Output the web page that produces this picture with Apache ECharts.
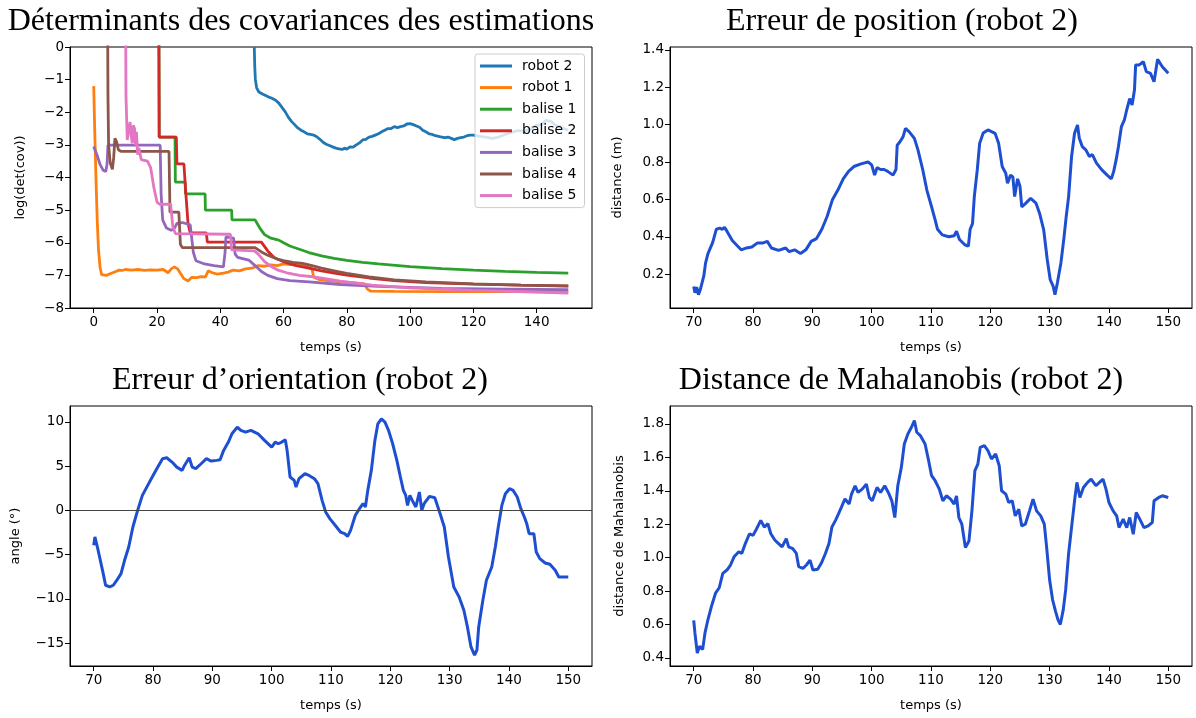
<!DOCTYPE html>
<html>
<head>
<meta charset="utf-8">
<script src="https://cdn.jsdelivr.net/npm/echarts@6/dist/echarts.min.js"></script>
<style>
  html, body { margin: 0; padding: 0; background: #fff; }
  #chart { width: 1196px; height: 718px; }
</style>
</head>
<body>
<div id="chart"></div>
<script>
// ---- Covariance determinants (log), time in s ----
const robot2 = [[50.75,0],[50.9,-0.6],[51.1,-1.0],[51.5,-1.25],[52.2,-1.38],[53.5,-1.45],[55,-1.52],[56.3,-1.57],[57.5,-1.63],[58.5,-1.72],[59.5,-1.85],[60.5,-1.98],[61.5,-2.15],[62.5,-2.28],[63.5,-2.38],[64.5,-2.48],[65.5,-2.55],[66.5,-2.6],[67.5,-2.66],[68.5,-2.68],[69.5,-2.7],[70.5,-2.75],[71.5,-2.83],[72.5,-2.92],[73.5,-2.98],[74.5,-3.02],[75.5,-3.06],[76.5,-3.1],[77.5,-3.12],[78.5,-3.14],[79.3,-3.1],[80,-3.13],[81,-3.06],[82,-3.07],[83,-3.0],[84,-2.94],[85,-2.85],[86,-2.83],[87,-2.76],[88,-2.74],[89,-2.7],[90,-2.66],[91,-2.6],[92,-2.55],[93,-2.5],[94,-2.5],[95,-2.44],[96,-2.47],[97,-2.44],[98,-2.42],[99,-2.36],[100,-2.35],[101,-2.38],[102,-2.42],[103,-2.46],[104,-2.55],[105,-2.6],[106,-2.66],[107,-2.68],[108,-2.72],[109,-2.74],[110,-2.76],[111,-2.78],[112,-2.76],[113,-2.8],[114,-2.84],[115,-2.8],[116,-2.78],[117,-2.76],[118,-2.72],[119,-2.7],[120,-2.7],[122,-2.74],[124,-2.76],[126,-2.8],[128,-2.76],[130,-2.68],[132,-2.62],[134,-2.56],[136,-2.58],[138,-2.52],[140,-2.4],[141.5,-2.38],[143,-2.25],[144.5,-2.28],[146,-2.4],[148,-2.48],[150,-2.55]];
const robot1 = [[0,-1.2],[0.3,-2.5],[0.7,-4.0],[1.1,-5.3],[1.5,-6.2],[2.0,-6.75],[2.5,-6.98],[3,-7.02],[4,-7.0],[5,-6.96],[6,-6.92],[7,-6.88],[8,-6.84],[9,-6.85],[10,-6.82],[12,-6.84],[14,-6.82],[16,-6.85],[18,-6.83],[20,-6.84],[22,-6.82],[23.5,-6.92],[24.5,-6.8],[25.5,-6.74],[26.5,-6.8],[27.5,-6.95],[28.5,-7.1],[29.8,-7.17],[31,-7.06],[32.5,-7.07],[34,-7.04],[35.3,-7.05],[36.2,-6.86],[37.5,-6.92],[39,-6.96],[41,-6.93],[42.5,-6.9],[44,-6.84],[46,-6.86],[48,-6.8],[50,-6.78],[52,-6.7],[54,-6.72],[56,-6.68],[58,-6.7],[60,-6.65],[62,-6.67],[64,-6.68],[66,-6.7],[68,-6.75],[69,-6.8],[69.5,-7.05],[71,-7.12],[74,-7.16],[78,-7.2],[82,-7.22],[85.5,-7.26],[86.5,-7.42],[87.5,-7.48],[95,-7.49],[110,-7.5],[130,-7.5],[150,-7.5]];
const balise1 = [[20.6,0.5],[20.7,-2.76],[25.7,-2.76],[25.8,-4.14],[28.9,-4.14],[29.0,-4.5],[35.2,-4.5],[35.3,-5.0],[43.6,-5.0],[43.7,-5.3],[51,-5.3],[52.5,-5.55],[54,-5.75],[56,-5.86],[58.5,-5.92],[60,-6.0],[62,-6.1],[65,-6.2],[68,-6.3],[72,-6.4],[76,-6.48],[80,-6.54],[85,-6.6],[90,-6.65],[100,-6.73],[110,-6.79],[120,-6.84],[130,-6.88],[140,-6.91],[150,-6.93]];
const balise2 = [[20.6,0.5],[20.7,-2.76],[26.1,-2.76],[26.3,-3.58],[28.5,-3.58],[29.2,-4.6],[29.8,-5.4],[30.5,-5.7],[35.6,-5.7],[35.9,-5.98],[53,-5.98],[55,-6.25],[57,-6.45],[60,-6.58],[64,-6.7],[68,-6.78],[72,-6.86],[76,-6.93],[80,-6.99],[87,-7.08],[95,-7.16],[105,-7.22],[120,-7.27],[135,-7.3],[150,-7.32]];
const balise3 = [[0,-3.05],[1,-3.3],[2,-3.6],[3,-3.78],[3.8,-3.82],[4.2,-3.6],[4.5,-3.01],[21,-3.01],[21.3,-4.5],[21.8,-5.3],[23,-5.55],[24.5,-5.62],[25.5,-5.55],[26.3,-5.41],[28,-5.38],[30.5,-5.45],[31.5,-6.3],[32.3,-6.55],[35,-6.65],[38,-6.7],[41,-6.74],[41.5,-6.3],[41.8,-5.82],[44.2,-5.86],[44.7,-6.35],[45.5,-6.45],[49,-6.53],[51,-6.7],[53,-6.88],[55,-7.0],[58,-7.1],[62,-7.16],[68,-7.2],[78,-7.28],[90,-7.34],[110,-7.4],[130,-7.42],[150,-7.44]];
const balise4 = [[4.4,0.5],[4.5,-1.5],[4.7,-3.0],[5.2,-3.55],[5.9,-3.75],[6.3,-3.4],[6.7,-2.8],[7.2,-2.9],[7.8,-3.15],[8.6,-3.2],[23.8,-3.2],[24.1,-5.06],[26.9,-5.06],[27.4,-6.05],[28,-6.15],[51,-6.15],[53,-6.28],[55,-6.38],[58,-6.5],[60,-6.55],[63,-6.6],[66,-6.63],[69,-6.7],[72,-6.78],[76,-6.86],[80,-6.94],[87,-7.05],[95,-7.14],[105,-7.2],[120,-7.26],[135,-7.3],[150,-7.33]];
const balise5 = [[10.1,0.5],[10.2,-1.5],[10.6,-2.85],[11.0,-2.55],[11.5,-2.3],[11.8,-2.7],[12.2,-2.95],[12.5,-2.4],[12.9,-2.5],[13.2,-3.0],[13.5,-2.6],[13.9,-3.3],[14.3,-3.1],[15,-3.45],[17,-3.5],[18,-3.7],[19,-4.3],[20,-4.75],[20.8,-4.82],[24.3,-4.82],[25,-5.5],[25.8,-5.72],[43.2,-5.74],[43.6,-6.22],[50.8,-6.25],[52,-6.35],[54,-6.58],[56,-6.72],[58,-6.83],[61,-6.92],[65,-7.0],[70,-7.05],[78,-7.18],[88,-7.3],[100,-7.38],[120,-7.46],[150,-7.54]];

// ---- Robot 2 position error (m) ----
const positionError = [[70,0.134],[70.2,0.10],[70.5,0.13],[70.8,0.09],[71.1,0.116],[71.7,0.19],[72,0.26],[72.4,0.31],[73.2,0.37],[73.8,0.44],[74.4,0.446],[74.8,0.44],[75.2,0.45],[75.6,0.43],[76.5,0.38],[77.1,0.36],[78,0.33],[78.9,0.34],[79.8,0.345],[80.7,0.366],[81.6,0.366],[82.4,0.375],[83.1,0.34],[84.3,0.327],[85.5,0.34],[86.1,0.32],[87,0.33],[88,0.31],[88.9,0.33],[89.8,0.375],[90.7,0.39],[91.6,0.44],[92.5,0.51],[93.4,0.60],[94.3,0.65],[95.2,0.71],[96.1,0.75],[97,0.776],[98.2,0.79],[99.4,0.80],[100,0.785],[100.5,0.73],[100.9,0.77],[101.5,0.76],[102.1,0.76],[102.7,0.75],[103.6,0.73],[104.1,0.76],[104.3,0.89],[104.8,0.91],[105.3,0.936],[105.7,0.98],[106.3,0.963],[107.2,0.927],[107.8,0.865],[108.6,0.76],[109.3,0.65],[110.1,0.56],[110.7,0.49],[111.1,0.44],[111.9,0.41],[113,0.40],[113.9,0.405],[114.3,0.43],[114.8,0.385],[115.7,0.357],[116.3,0.35],[116.6,0.44],[117,0.47],[117.3,0.615],[117.8,0.758],[118.2,0.90],[118.8,0.955],[119.6,0.972],[120.2,0.963],[120.8,0.954],[121.4,0.90],[122,0.776],[122.6,0.74],[122.9,0.687],[123.4,0.73],[123.8,0.72],[124.1,0.615],[124.6,0.71],[125,0.67],[125.3,0.56],[126,0.58],[126.8,0.606],[127.7,0.58],[128.3,0.526],[129,0.437],[129.6,0.277],[130.1,0.17],[130.6,0.134],[130.9,0.09],[131.3,0.152],[131.9,0.26],[132.4,0.39],[132.8,0.51],[133.2,0.615],[133.7,0.83],[134.2,0.954],[134.7,0.998],[135,0.927],[135.5,0.883],[136.1,0.865],[136.7,0.83],[137.2,0.84],[137.9,0.794],[138.8,0.758],[139.7,0.73],[140.4,0.71],[140.8,0.75],[141.2,0.81],[141.6,0.883],[142.1,0.99],[142.6,1.026],[143,1.08],[143.5,1.14],[143.9,1.106],[144.3,1.186],[144.5,1.32],[145.1,1.32],[145.8,1.337],[146.3,1.284],[147,1.275],[147.6,1.23],[148.2,1.35],[149,1.31],[150,1.275]];

// ---- Robot 2 orientation error (deg) ----
const orientationError = [[70,-3.95],[70.2,-3.0],[70.6,-4.1],[71,-5.3],[71.6,-7.15],[72,-8.47],[72.7,-8.66],[73.3,-8.47],[73.9,-7.9],[74.6,-7.15],[75.2,-5.65],[75.9,-4.14],[76.6,-1.88],[77.4,0],[78.2,1.69],[79.1,2.82],[80,3.95],[80.8,4.89],[81.6,5.84],[82.3,5.95],[83.2,5.46],[84,4.89],[84.9,4.52],[85.3,5.08],[86.1,5.95],[86.6,4.89],[87.2,4.71],[88.1,5.27],[89,5.84],[89.8,5.57],[90.7,5.65],[91.3,5.72],[91.9,6.78],[92.7,7.72],[93.3,8.66],[94.2,9.41],[94.8,9.04],[95.6,8.85],[96.5,9.04],[97.7,8.66],[98.8,7.91],[100,7.15],[100.6,7.72],[101.1,7.53],[101.7,7.72],[102.3,7.98],[102.6,6.78],[103.1,3.77],[103.8,3.39],[104.1,2.64],[104.6,3.58],[105.6,4.14],[106.3,3.95],[107.2,3.58],[107.8,3.01],[108.5,1.13],[109.1,-0.19],[109.8,-0.94],[110.7,-1.69],[111.6,-2.45],[112.3,-2.64],[112.8,-2.94],[113.3,-2.26],[114.1,-0.56],[114.8,0.19],[115.4,0.75],[115.8,0.38],[116.2,2.26],[116.8,4.52],[117.4,7.91],[117.9,9.79],[118.5,10.35],[119.1,9.98],[119.7,9.04],[120.4,7.53],[121.1,5.65],[121.7,3.77],[122.2,2.26],[122.6,1.69],[122.9,0.56],[123.3,1.69],[123.7,1.13],[124.3,0.38],[124.9,2.07],[125.3,0],[125.7,0.75],[126.6,1.58],[127.5,1.43],[128.4,-0.38],[129.1,-1.88],[129.8,-5.27],[130.7,-8.66],[131.6,-9.79],[132.4,-11.3],[133,-13.18],[133.6,-15.44],[134.2,-16.38],[134.6,-15.81],[134.9,-13.18],[135.6,-10.17],[136.2,-7.91],[137.1,-6.4],[137.7,-4.14],[138.2,-1.88],[138.8,0.56],[139.4,1.88],[140.1,2.45],[140.7,2.26],[141.4,1.51],[142,0.19],[142.6,-0.75],[143,-1.51],[143.4,-2.64],[144.2,-2.64],[144.6,-4.71],[145.2,-5.46],[146.1,-5.95],[146.9,-6.1],[147.8,-6.78],[148.4,-7.53],[150,-7.53]];

// ---- Robot 2 Mahalanobis distance ----
const mahalanobis = [[70,0.625],[70.2,0.55],[70.6,0.43],[71,0.47],[71.5,0.45],[71.9,0.55],[72.4,0.63],[73,0.71],[73.7,0.79],[74.3,0.82],[74.9,0.906],[75.6,0.926],[76.2,0.956],[76.8,1.005],[77.6,1.035],[78.1,1.025],[78.7,1.084],[79.4,1.143],[80,1.133],[80.6,1.173],[81.3,1.223],[81.9,1.183],[82.5,1.203],[83,1.143],[83.7,1.104],[84.3,1.084],[84.9,1.064],[85.6,1.114],[86,1.064],[86.7,1.054],[87.3,1.025],[87.7,0.946],[88.4,0.936],[89,0.956],[89.6,0.985],[90.1,0.926],[90.9,0.93],[91.5,0.966],[92.2,1.025],[92.8,1.084],[93.3,1.183],[93.9,1.223],[94.4,1.262],[94.9,1.302],[95.5,1.351],[96.2,1.321],[96.6,1.38],[97.2,1.43],[97.7,1.39],[98.4,1.41],[99.1,1.44],[99.6,1.36],[100.1,1.34],[100.9,1.42],[101.5,1.39],[102.2,1.43],[102.8,1.39],[103.4,1.34],[103.9,1.24],[104.4,1.43],[105,1.54],[105.5,1.68],[106.1,1.74],[106.7,1.78],[107.2,1.82],[107.6,1.75],[108.2,1.73],[109,1.68],[109.6,1.58],[110.1,1.49],[110.7,1.46],[111.4,1.41],[112,1.34],[112.6,1.37],[113.3,1.35],[113.9,1.32],[114.3,1.37],[114.7,1.24],[115.2,1.20],[115.8,1.06],[116.4,1.10],[116.9,1.28],[117.4,1.52],[117.9,1.56],[118.3,1.66],[119,1.67],[119.6,1.64],[120.2,1.59],[120.9,1.62],[121.5,1.55],[121.9,1.40],[122.6,1.38],[123.1,1.33],[123.7,1.34],[124.2,1.25],[124.8,1.29],[125.3,1.19],[125.9,1.20],[126.6,1.28],[127.2,1.35],[127.8,1.28],[128.5,1.25],[129.1,1.20],[129.5,1.06],[130,0.866],[130.5,0.748],[131,0.679],[131.4,0.629],[131.8,0.60],[132.3,0.689],[132.7,0.807],[133.2,1.025],[133.7,1.183],[134.2,1.34],[134.6,1.45],[135.1,1.36],[135.7,1.42],[136.4,1.45],[137,1.47],[137.8,1.43],[138.4,1.45],[139,1.47],[139.5,1.41],[140,1.33],[140.7,1.28],[141.3,1.25],[141.7,1.18],[142.4,1.23],[143,1.18],[143.5,1.24],[144.1,1.14],[144.6,1.27],[145.2,1.23],[145.9,1.18],[146.6,1.19],[147.3,1.21],[147.6,1.34],[148.4,1.36],[149,1.37],[150,1.36]];

// ---- Tick values ----
const covTimeTicks = [0, 20, 40, 60, 80, 100, 120, 140];
const covTicks = [0, -1, -2, -3, -4, -5, -6, -7, -8];
const timeTicks = [70, 80, 90, 100, 110, 120, 130, 140, 150];
const positionTicks = [0.2, 0.4, 0.6, 0.8, 1.0, 1.2, 1.4];
const orientationTicks = [-15, -10, -5, 0, 5, 10];
const mahalanobisTicks = [0.4, 0.6, 0.8, 1.0, 1.2, 1.4, 1.6, 1.8];

const covNames = ['robot 2', 'robot 1', 'balise 1', 'balise 2', 'balise 3', 'balise 4', 'balise 5'];
const covSeries = [robot2, robot1, balise1, balise2, balise3, balise4, balise5];
const covColors = ['#1f77b4', '#ff7f0e', '#2ca02c', '#d62728', '#9467bd', '#8c564b', '#e377c2'];
const traceColor = '#1f4fd1';

const SANS = 'DejaVu Sans';
const SERIF = 'Liberation Serif';
const minus = s => String(s).replace('-', '\u2212');

function xAxisFor(gridIndex, min, max, ticks) {
  return {
    type: 'value', gridIndex, min, max,
    name: 'temps (s)', nameLocation: 'middle', nameGap: 33,
    nameTextStyle: { fontFamily: SANS, fontSize: 13, color: '#000' },
    axisLine: { show: true, onZero: false, lineStyle: { color: '#000', width: 1 } },
    axisTick: { show: true, length: 5, customValues: ticks, lineStyle: { color: '#000' } },
    axisLabel: { customValues: ticks, fontFamily: SANS, fontSize: 13.5, color: '#000', margin: 7, formatter: v => minus(v) },
    splitLine: { show: false }
  };
}
function yAxisFor(gridIndex, min, max, ticks, name, gap, fmt) {
  return {
    type: 'value', gridIndex, min, max,
    name, nameLocation: 'middle', nameGap: gap,
    nameTextStyle: { fontFamily: SANS, fontSize: 13, color: '#000' },
    axisLine: { show: true, onZero: false, lineStyle: { color: '#000', width: 1 } },
    axisTick: { show: true, length: 5, customValues: ticks, lineStyle: { color: '#000' } },
    axisLabel: { customValues: ticks, fontFamily: SANS, fontSize: 13.5, color: '#000', margin: 6, formatter: fmt },
    splitLine: { show: false }
  };
}
const gridBox = (left, top, height) => ({ left, top, width: 522, height, show: true, borderColor: '#000', borderWidth: 1, backgroundColor: 'transparent' });

const series = covSeries.map((data, i) => ({
  name: covNames[i], type: 'line', xAxisIndex: 0, yAxisIndex: 0,
  data, symbol: 'none', showSymbol: false, clip: true,
  lineStyle: { color: covColors[i], width: 2.8 }, itemStyle: { color: covColors[i] }
}));
series.push({
  type: 'line', xAxisIndex: 1, yAxisIndex: 1, data: positionError, symbol: 'none', clip: true,
  lineStyle: { color: traceColor, width: 3 }
});
series.push({
  type: 'line', xAxisIndex: 2, yAxisIndex: 2, data: orientationError, symbol: 'none', clip: true,
  lineStyle: { color: traceColor, width: 3 },
  markLine: { silent: true, symbol: 'none', label: { show: false }, lineStyle: { color: '#444', width: 1, type: 'solid' }, data: [{ yAxis: 0 }] }
});
series.push({
  type: 'line', xAxisIndex: 3, yAxisIndex: 3, data: mahalanobis, symbol: 'none', clip: true,
  lineStyle: { color: traceColor, width: 3 }
});

const titleText = (text, x, y) => ({
  type: 'text', x, y, silent: true,
  style: { text, fontFamily: SERIF, fontSize: 32, fill: '#000', align: 'center', verticalAlign: 'middle' }
});

const chart = echarts.init(document.getElementById('chart'), null, { renderer: 'canvas' });
chart.setOption({
  animation: false,
  backgroundColor: '#fff',
  grid: [gridBox(70, 47, 261), gridBox(670, 47, 261), gridBox(70, 406, 260), gridBox(670, 406, 260)],
  xAxis: [
    xAxisFor(0, -7.5, 157.5, covTimeTicks),
    xAxisFor(1, 66, 154, timeTicks),
    xAxisFor(2, 66, 154, timeTicks),
    xAxisFor(3, 66, 154, timeTicks)
  ],
  yAxis: [
    yAxisFor(0, -8, 0, covTicks, 'log(det(cov))', 43, v => minus(v)),
    yAxisFor(1, 0.0185, 1.416, positionTicks, 'distance (m)', 46, v => v.toFixed(1)),
    yAxisFor(2, -17.6, 11.8, orientationTicks, 'angle (°)', 48, v => minus(v)),
    yAxisFor(3, 0.352, 1.907, mahalanobisTicks, 'distance de Mahalanobis', 44, v => v.toFixed(1))
  ],
  legend: {
    orient: 'vertical', left: 475, top: 54,
    data: covNames, icon: 'rect', itemWidth: 32, itemHeight: 3, itemGap: 7.6,
    padding: [5, 8, 5, 5],
    backgroundColor: 'rgba(255,255,255,0.8)', borderColor: '#ccc', borderWidth: 1, borderRadius: 3,
    textStyle: { fontFamily: SANS, fontSize: 14, lineHeight: 14, color: '#000', padding: [0, 0, 0, 5] }
  },
  graphic: [
    titleText('Déterminants des covariances des estimations', 301, 22),
    titleText('Erreur de position (robot 2)', 902, 22),
    titleText('Erreur d\u2019orientation (robot 2)', 300, 381),
    titleText('Distance de Mahalanobis (robot 2)', 901, 381)
  ],
  series
});
</script>
</body>
</html>
